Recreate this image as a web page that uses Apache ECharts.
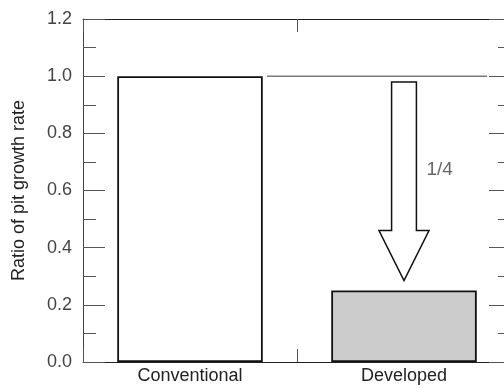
<!DOCTYPE html>
<html>
<head>
<meta charset="utf-8">
<script src="https://cdn.jsdelivr.net/npm/echarts@6/dist/echarts.min.js"></script>
<style>
html,body{margin:0;padding:0;background:#fff;}
#chart{width:504px;height:388px;}
</style>
</head>
<body>
<div id="chart"></div>
<script>
// ---- data ----
const categories = ['Conventional', 'Developed'];
const ratios = [1.0, 0.25];
const yAxisName = 'Ratio of pit growth rate';
const yMin = 0, yMax = 1.2, yStep = 0.2;
const referenceLevel = 1.0;          // horizontal reference line level
const arrowStart = 0.98;             // arrow shaft top (ratio units)
const arrowHeadBase = 0.46;          // arrow head base
const arrowTip = 0.285;              // arrow tip
const reductionLabel = '1/4';
const reductionLabelLevel = 0.672;

const FONT = '"Liberation Sans", Arial, sans-serif';
const chart = echarts.init(document.getElementById('chart'), null, {renderer: 'canvas'});

const tickStyle = {color: '#555', width: 1};
const option = {
  animation: false,
  backgroundColor: '#fff',
  grid: {left: 83, top: 19, width: 428, height: 343, containLabel: false, outerBoundsMode: 'none'},
  xAxis: [
    {
      type: 'category', data: categories, position: 'bottom', boundaryGap: true,
      axisLine: {show: true, onZero: false, lineStyle: {color: '#222', width: 1}},
      axisTick: {show: true, inside: true, interval: 0, length: 13, lineStyle: tickStyle},
      axisLabel: {color: '#222', fontFamily: FONT, fontSize: 18, margin: 5, interval: 0}
    },
    {
      type: 'category', data: categories, position: 'top', boundaryGap: true,
      axisLine: {show: true, onZero: false, lineStyle: {color: '#222', width: 1}},
      axisTick: {show: true, inside: true, interval: 0, length: 13, lineStyle: tickStyle},
      axisLabel: {show: false}
    }
  ],
  yAxis: [
    {
      type: 'value', min: yMin, max: yMax, interval: yStep, position: 'left',
      name: yAxisName, nameLocation: 'middle', nameGap: 55, nameRotate: 90,
      nameTextStyle: {color: '#222', fontFamily: FONT, fontSize: 18},
      axisLine: {show: true, onZero: false, lineStyle: {color: '#444', width: 1}},
      axisTick: {show: true, inside: true, length: 22, lineStyle: tickStyle},
      minorTick: {show: true, splitNumber: 2, length: 13, lineStyle: tickStyle},
      axisLabel: {color: '#444', fontFamily: FONT, fontSize: 18, margin: 11,
                  formatter: v => v.toFixed(1)},
      splitLine: {show: false}
    },
    {
      type: 'value', min: yMin, max: yMax, interval: yStep, position: 'right',
      axisLine: {show: true, onZero: false, lineStyle: {color: '#444', width: 1}},
      axisTick: {show: true, inside: true, length: 22, lineStyle: tickStyle},
      minorTick: {show: true, splitNumber: 2, length: 13, lineStyle: tickStyle},
      axisLabel: {show: false},
      splitLine: {show: false}
    }
  ],
  series: [
    {
      type: 'bar', xAxisIndex: 0, yAxisIndex: 0, barWidth: '68%',
      data: ratios.map((v, i) => ({
        value: v,
        itemStyle: {color: i === 0 ? '#ffffff' : '#cccccc', borderColor: '#111', borderWidth: 1.8}
      })),
      z: 2
    },
    {
      // reference line at the conventional level
      type: 'custom', xAxisIndex: 0, yAxisIndex: 0,
      data: [[referenceLevel]],
      renderItem: function (params, api) {
        const lvl = api.value(0);
        const band = api.size([1, 0])[0];
        const p0 = api.coord([0, lvl]);
        const p1 = api.coord([1, lvl]);
        return {
          type: 'line',
          shape: {x1: p0[0] + band * 0.36, y1: p0[1], x2: p1[0] + band * 0.388, y2: p1[1]},
          style: {stroke: '#7a7a7a', lineWidth: 1.5}
        };
      },
      z: 3
    },
    {
      // reduction arrow + label
      type: 'custom', xAxisIndex: 0, yAxisIndex: 0,
      data: [[arrowStart, arrowHeadBase, arrowTip, reductionLabelLevel]],
      renderItem: function (params, api) {
        const band = api.size([1, 0])[0];
        const top = api.coord([1, api.value(0)]);
        const base = api.coord([1, api.value(1)]);
        const tip = api.coord([1, api.value(2)]);
        const lab = api.coord([1, api.value(3)]);
        const cx = top[0];
        const hs = band * 0.058, hh = band * 0.117;
        return {
          type: 'group',
          children: [
            {
              type: 'polygon',
              shape: {points: [
                [cx - hs, top[1]], [cx + hs, top[1]], [cx + hs, base[1]], [cx + hh, base[1]],
                [cx, tip[1]], [cx - hh, base[1]], [cx - hs, base[1]]
              ]},
              style: {fill: '#fff', stroke: '#111', lineWidth: 1.5}
            },
            {
              type: 'text',
              x: cx + band * 0.105, y: lab[1],
              style: {text: reductionLabel, fill: '#666', font: '19px ' + FONT,
                      textAlign: 'left', textVerticalAlign: 'middle'}
            }
          ]
        };
      },
      z: 4
    }
  ]
};
chart.setOption(option);
</script>
</body>
</html>
